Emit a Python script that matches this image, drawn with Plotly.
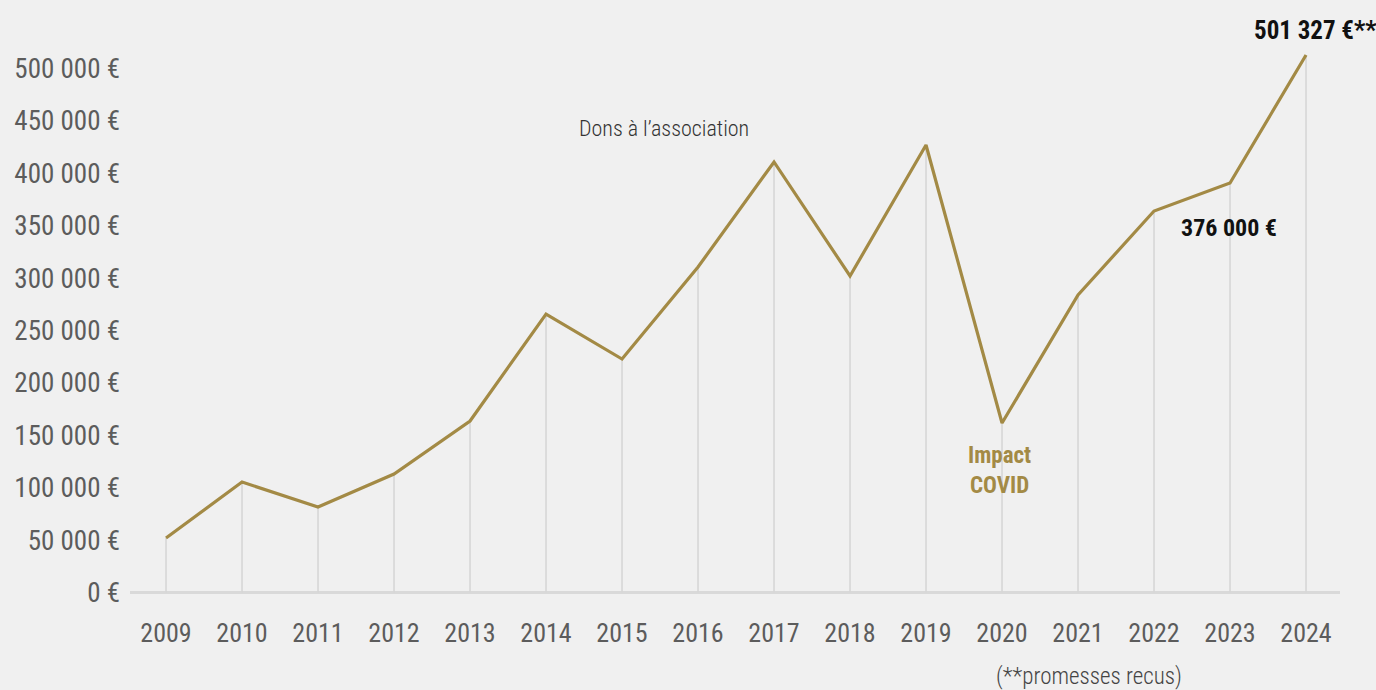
import plotly.graph_objects as go

years = list(range(2009, 2025))
dons = [52000, 105400, 81600, 113000, 163600, 265700, 222800, 310600,
        410800, 302000, 427000, 161700, 283900, 364000, 390700, 512900]
tick_vals = [0, 50000, 100000, 150000, 200000, 250000, 300000, 350000, 400000, 450000, 500000]
tick_text = ["0 €", "50 000 €", "100 000 €", "150 000 €", "200 000 €", "250 000 €",
             "300 000 €", "350 000 €", "400 000 €", "450 000 €", "500 000 €"]

FONT = "Roboto Condensed, DejaVu Sans Condensed, sans-serif"
GOLD = "#a38a45"
GREY = "#5c5c5c"

# vertical drop lines from each point to the axis
drop_x, drop_y = [], []
for yr, v in zip(years, dons):
    drop_x += [yr, yr, None]
    drop_y += [0, v, None]

fig = go.Figure()
fig.add_trace(go.Scatter(x=drop_x, y=drop_y, mode="lines",
                         line=dict(color="#d6d6d6", width=1.6),
                         hoverinfo="skip", showlegend=False))
fig.add_trace(go.Scatter(x=years, y=dons, mode="lines",
                         line=dict(color=GOLD, width=3.2),
                         name="Dons à l’association", showlegend=False))

fig.add_annotation(x=2015.55, y=443000, text="Dons à l’association", showarrow=False,
                   font=dict(family=FONT, size=22, color="#333333", weight=300))
fig.add_annotation(x=2024.13, y=536000, text="<b>501 327 €**</b>", showarrow=False,
                   font=dict(family=FONT, size=25, color="#111111"))
fig.add_annotation(x=2022.99, y=348000, text="<b>376 000 €</b>", showarrow=False,
                   font=dict(family=FONT, size=24, color="#111111"))
fig.add_annotation(x=2019.97, y=116000, text="<b>Impact<br>COVID</b>", showarrow=False,
                   font=dict(family=FONT, size=23, color=GOLD), align="center")
fig.add_annotation(x=2021.15, xref="x", y=-0.158, yref="paper", text="(**promesses recus)",
                   showarrow=False, font=dict(family=FONT, size=23, color="#444444", weight=300))

fig.update_layout(
    width=1376, height=690,
    paper_bgcolor="#f0f0f0", plot_bgcolor="#f0f0f0",
    margin=dict(l=130, r=36, t=20, b=90),
    font=dict(family=FONT, color=GREY),
    xaxis=dict(range=[2008.526, 2024.447], tickvals=years, ticktext=[str(y) for y in years],
               showgrid=False, zeroline=False, showline=False, ticks="",
               tickfont=dict(family=FONT, size=26, color=GREY)),
    yaxis=dict(range=[-7156, 546279], tickvals=tick_vals, ticktext=tick_text,
               showgrid=False, zeroline=True, zerolinecolor="#d9d9d9", zerolinewidth=3,
               showline=False, ticks="", ticklabelstandoff=9,
               tickfont=dict(family=FONT, size=27, color=GREY)),
)
fig.update_xaxes(ticklabelstandoff=15)

fig.write_html("out.html", config={"displayModeBar": False},
               post_script="document.body.style.margin='0';document.body.style.overflow='hidden';")
